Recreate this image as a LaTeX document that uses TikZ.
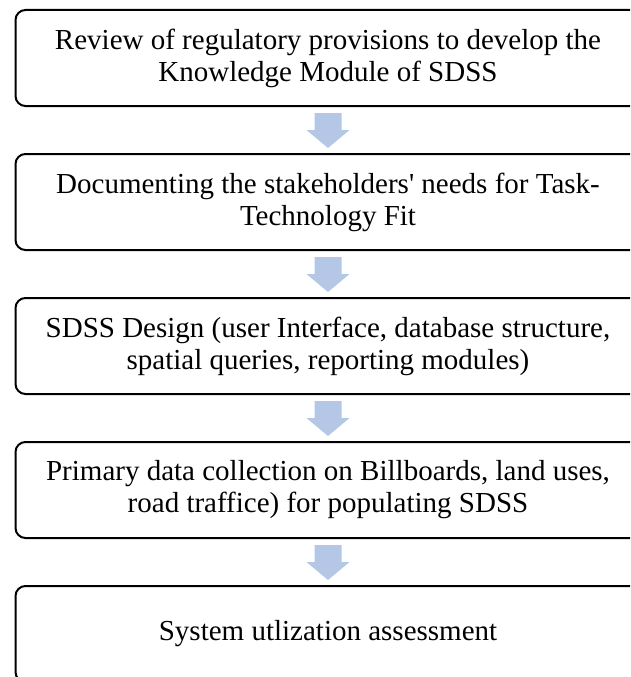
\documentclass[tikz,border=0pt]{standalone}
\usepackage{fontspec}
\setmainfont{Liberation Serif}
\usetikzlibrary{calc}
\definecolor{arrowblue}{RGB}{180,199,231}
\tikzset{
  stepbox/.style={draw=black, line width=2pt, rounded corners=10pt, fill=white,
    minimum width=625pt, minimum height=96pt, align=center, inner sep=0pt,
    font=\fontsize{29}{32}\selectfont},
  blockarrow/.style={fill=arrowblue, draw=none}
}
\newcommand{\blockarr}[2]{%
  \fill[blockarrow] ($(#1.south)+(-13.5,6)$) -- ($(#1.south)+(13.5,6)$)
    -- ($(#2.north)+(13.5,-23)$) -- ($(#2.north)+(21.5,-23)$)
    -- ($(#2.north)+(0,-5)$) -- ($(#2.north)+(-21.5,-23)$)
    -- ($(#2.north)+(-13.5,-23)$) -- cycle;}
\begin{document}
\begin{tikzpicture}[x=1pt,y=-1pt]
\useasboundingbox (0,0) rectangle (630,677);
\clip (0,0) rectangle (630,677);
\node[stepbox] (b1) at (328,58) {Review of regulatory provisions to develop the\\Knowledge Module of SDSS};
\node[stepbox] (b2) at (328,202) {Documenting the stakeholders\textquotesingle{} needs for Task-\\Technology Fit};
\node[stepbox] (b3) at (328,346) {SDSS Design (user Interface, database structure,\\spatial queries, reporting modules)};
\node[stepbox] (b4) at (328,490) {Primary data collection on Billboards, land uses,\\road traffice) for populating SDSS};
\node[stepbox] (b5) at (328,634) {System utlization assessment};
\blockarr{b1}{b2}
\blockarr{b2}{b3}
\blockarr{b3}{b4}
\blockarr{b4}{b5}
\end{tikzpicture}
\end{document}
